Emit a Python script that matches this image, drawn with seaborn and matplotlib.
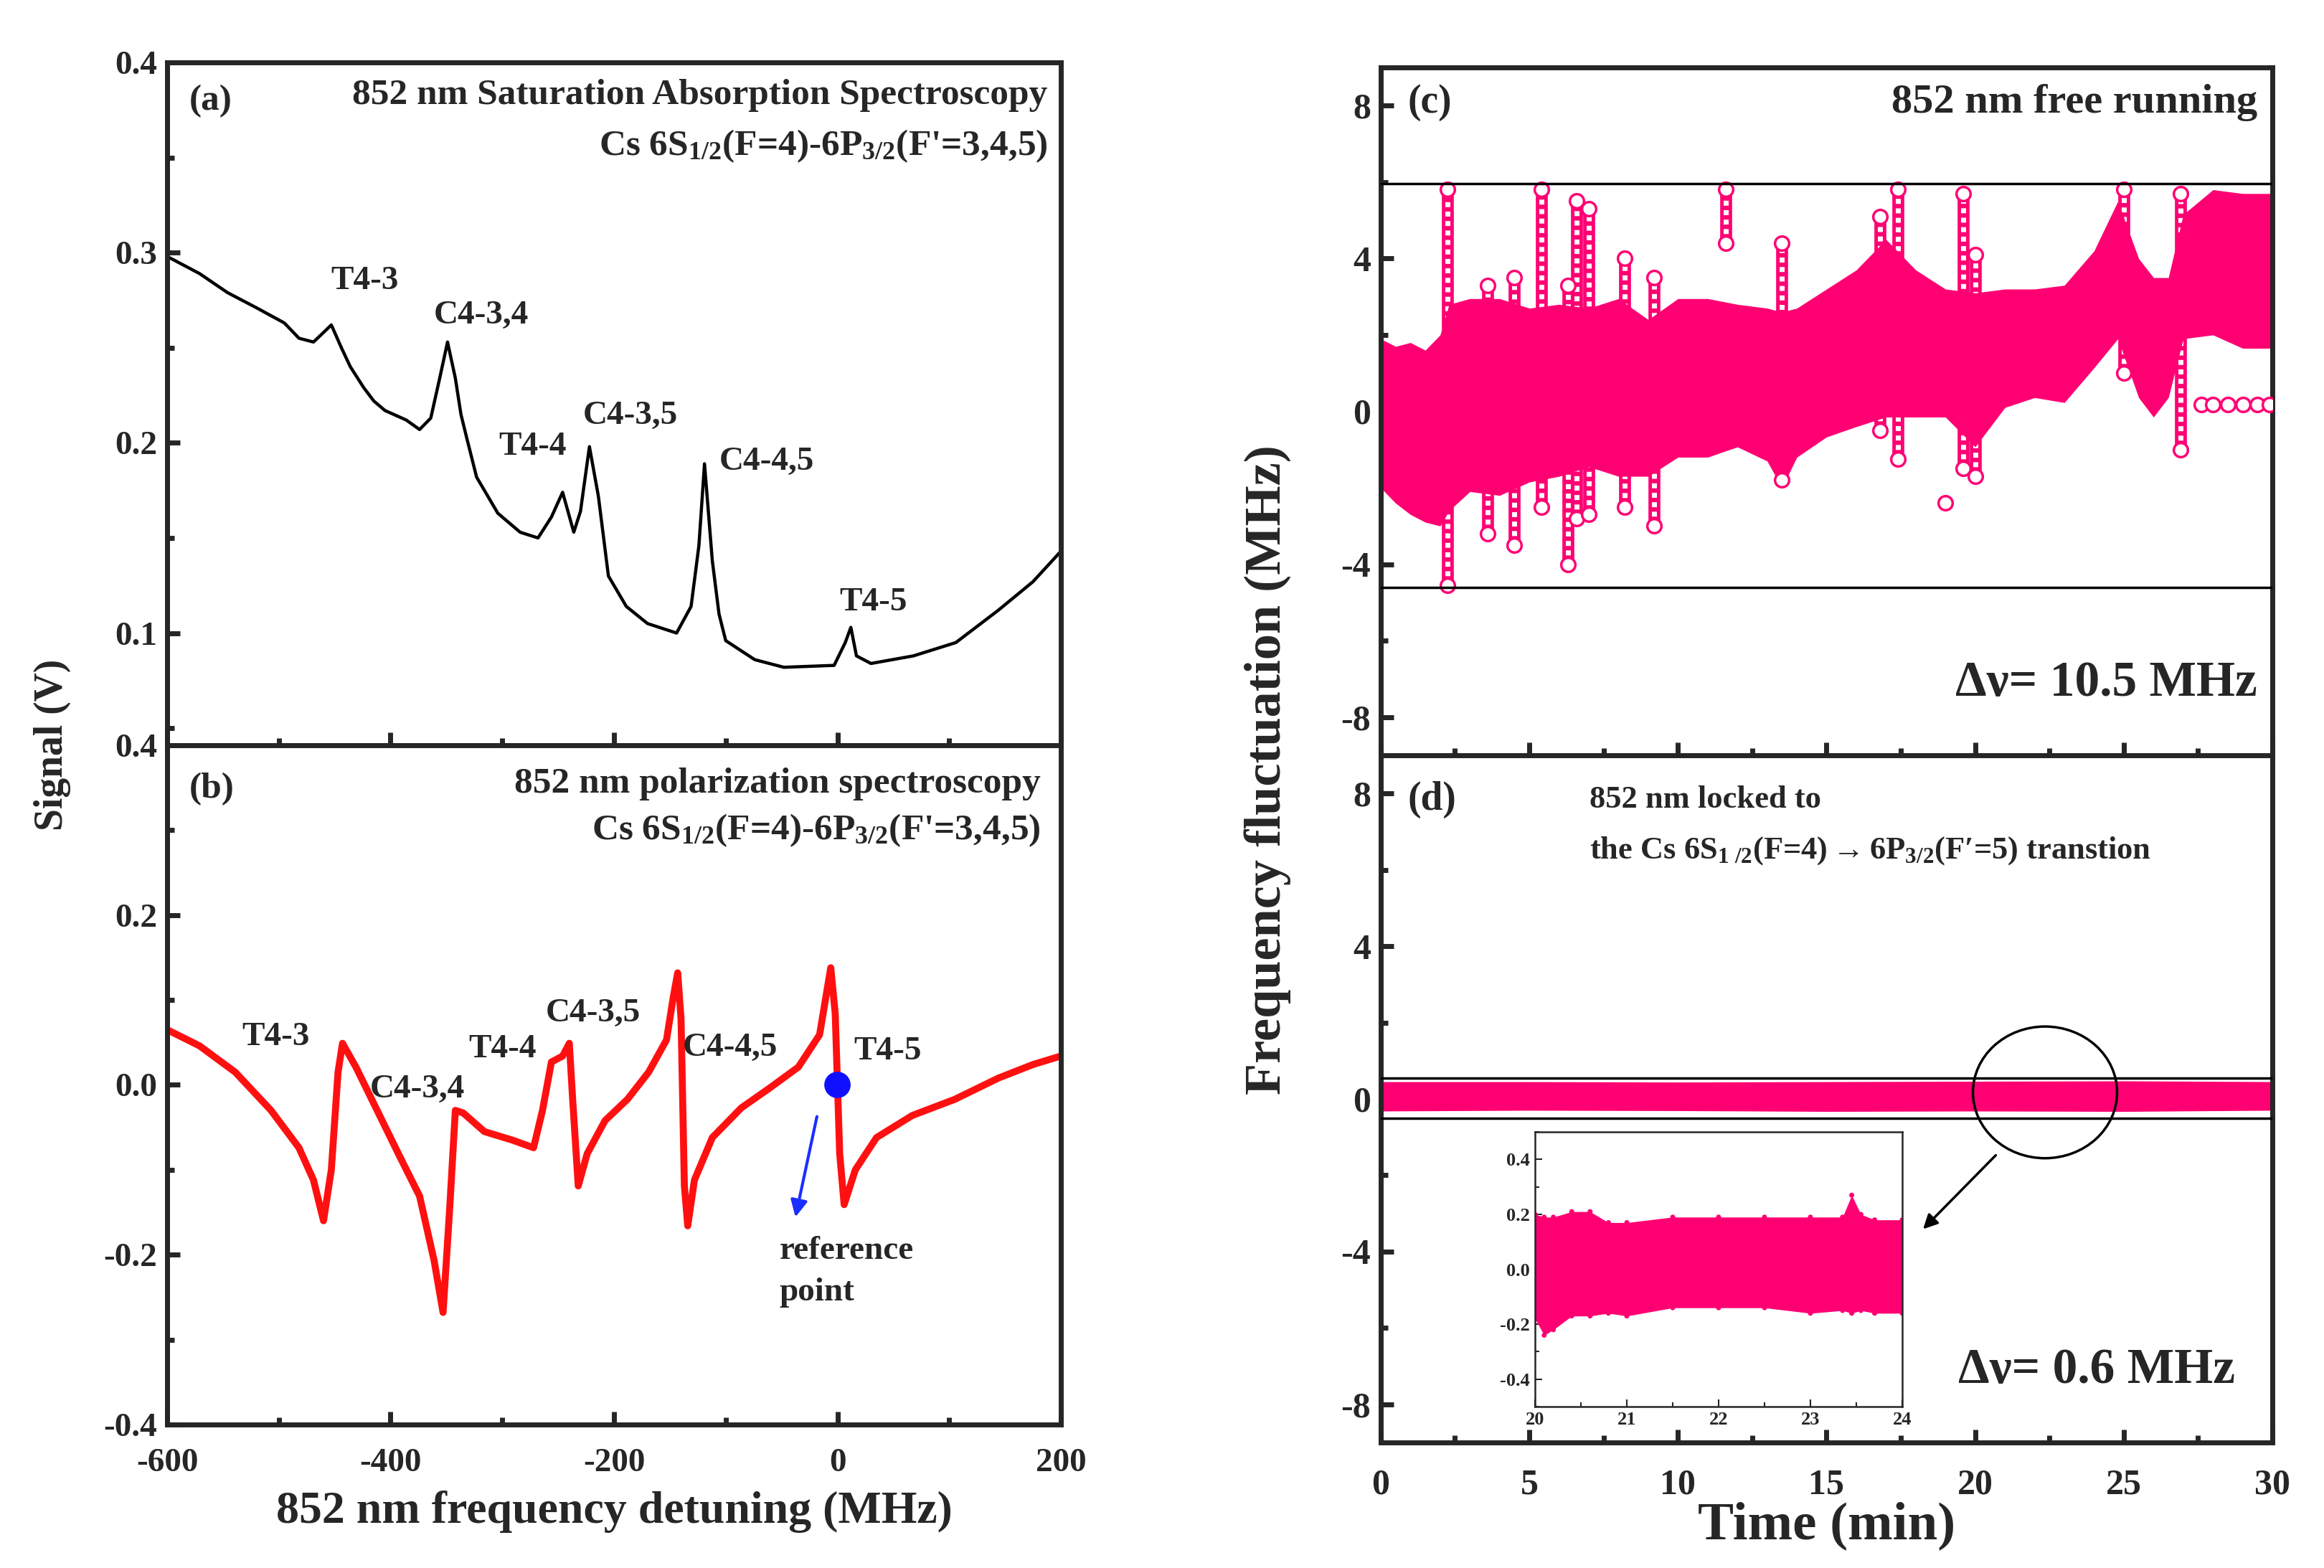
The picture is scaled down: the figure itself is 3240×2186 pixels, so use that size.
import numpy as np
import pandas as pd
import seaborn as sns
import matplotlib.pyplot as plt
from matplotlib.patches import Ellipse
from matplotlib.ticker import MultipleLocator

# ---- (a) saturation absorption spectrum
det_sas = [-600, -571, -546, -520, -495, -482, -469, -460, -453, -444, -436, -424, -415, -405,
           -386, -374, -364, -356, -349, -342, -337, -332, -323, -304, -284, -268, -256, -246,
           -236, -230, -222, -214, -205, -189, -170, -144, -131, -124, -119, -112, -106, -100,
           -74, -48, -3, 7, 12, 17, 30, 68, 106, 144, 175, 200]
sig_sas = [0.298, 0.289, 0.279, 0.271, 0.263, 0.255, 0.253, 0.258, 0.262, 0.250, 0.240, 0.229,
           0.222, 0.217, 0.212, 0.207, 0.213, 0.234, 0.253, 0.234, 0.215, 0.203, 0.182, 0.163,
           0.153, 0.150, 0.161, 0.174, 0.153, 0.164, 0.198, 0.172, 0.130, 0.114, 0.105, 0.100,
           0.114, 0.146, 0.189, 0.138, 0.110, 0.096, 0.086, 0.082, 0.083, 0.095, 0.103, 0.088,
           0.084, 0.088, 0.095, 0.112, 0.127, 0.143]

# ---- (b) polarization spectrum
det_ps = [-600, -571, -539, -507, -482, -469, -460, -453, -447, -443, -431, -412, -393, -374,
          -361, -353, -347, -342, -335, -316, -291, -272, -264, -256, -246, -240, -237, -232,
          -224, -208, -188, -169, -153, -147, -143, -140, -137, -134, -128, -112, -86, -61,
          -35, -16, -6, -2, 2, 6, 16, 35, 67, 105, 144, 175, 200]
sig_ps = [0.065, 0.046, 0.015, -0.030, -0.074, -0.112, -0.160, -0.100, 0.015, 0.049, 0.021,
          -0.030, -0.081, -0.131, -0.207, -0.268, -0.144, -0.030, -0.033, -0.055, -0.065,
          -0.074, -0.030, 0.027, 0.034, 0.049, -0.017, -0.119, -0.081, -0.042, -0.017, 0.015,
          0.053, 0.103, 0.132, 0.078, -0.119, -0.166, -0.112, -0.062, -0.027, -0.004, 0.021,
          0.059, 0.138, 0.084, -0.081, -0.141, -0.100, -0.062, -0.036, -0.017, 0.008, 0.024,
          0.034]

sas_labels = ['T4-3', 'C4-3,4', 'T4-4', 'C4-3,5', 'C4-4,5', 'T4-5']
sas_lab_x = [-423, -319, -273, -185, -63, 32]
sas_lab_y = [0.285, 0.267, 0.198, 0.214, 0.190, 0.116]
ps_lab_x = [-503, -376, -300, -219, -96, 45]
ps_lab_y = [0.056, -0.005, 0.042, 0.084, 0.044, 0.039]

# ---- (c) free running: envelope of the dense band, spikes and stray points
t_free = [0, 0.5, 1, 1.5, 2, 2.3, 3, 4, 5, 6, 7, 8, 9, 10, 11, 12, 13, 13.5, 14, 15, 16, 17,
          18, 19, 20, 21, 22, 23, 24, 24.8, 25.5, 26, 26.5, 27, 28, 29, 30]
up_free = [1.9, 1.7, 1.8, 1.6, 2.0, 2.8, 2.95, 2.95, 2.7, 2.8, 2.7, 2.95, 2.4, 2.95, 2.95, 2.8,
           2.7, 2.6, 2.7, 3.2, 3.7, 4.5, 3.7, 3.2, 3.1, 3.2, 3.2, 3.3, 4.2, 5.5, 4.0, 3.5, 3.5,
           5.15, 5.8, 5.7, 5.7]
lo_free = [-2.0, -2.4, -2.7, -2.9, -3.0, -2.6, -2.1, -2.2, -1.85, -1.7, -1.45, -1.7, -1.7, -1.2,
           -1.2, -0.93, -1.3, -2.0, -1.2, -0.67, -0.4, -0.15, -0.15, -0.15, -0.93, 0.1, 0.36,
           0.23, 1.14, 1.9, 0.36, -0.15, 0.36, 1.9, 2.0, 1.65, 1.65]
spike_t = [2.25, 3.6, 4.5, 5.4, 6.3, 6.6, 7.0, 8.2, 9.2, 11.6, 13.5, 16.8, 17.4, 19.6, 20.0,
           25.0, 26.9]
spike_lo = [-4.55, -3.2, -3.5, -2.5, -4.0, -2.8, -2.7, -2.5, -3.0, 4.4, -1.8, -0.5, -1.25,
            -1.5, -1.7, 1.0, -1.0]
spike_hi = [5.8, 3.3, 3.5, 5.8, 3.3, 5.5, 5.3, 4.0, 3.5, 5.8, 4.4, 5.1, 5.8, 5.7, 4.1, 5.8, 5.7]
stray_t = [19.0, 27.6, 28.0, 28.5, 29.0, 29.5, 29.9]
stray_v = [-2.4, 0.17, 0.17, 0.17, 0.17, 0.17, 0.17]
free_bounds = [5.95, -4.6]

# ---- (d) locked
t_lock = [0, 5, 10, 15, 20, 25, 30]
up_lock = [0.45, 0.45, 0.44, 0.45, 0.46, 0.47, 0.45]
lo_lock = [-0.32, -0.30, -0.31, -0.33, -0.32, -0.33, -0.30]
lock_bounds = [0.55, -0.5]

t_zoom = [20.0, 20.1, 20.2, 20.4, 20.6, 20.8, 21.0, 21.5, 22.0, 22.5, 23.0, 23.35, 23.45,
          23.55, 23.7, 24.0]
up_zoom = [0.20, 0.19, 0.19, 0.21, 0.21, 0.17, 0.17, 0.19, 0.19, 0.19, 0.19, 0.19, 0.27, 0.20,
           0.18, 0.18]
lo_zoom = [-0.18, -0.24, -0.22, -0.17, -0.17, -0.16, -0.17, -0.14, -0.14, -0.14, -0.16, -0.15,
           -0.16, -0.15, -0.16, -0.16]

PINK = '#FF0073'
RED = '#FF1010'

sns.set_style('ticks')
plt.rcParams['font.family'] = ['Liberation Serif', 'DejaVu Serif']
plt.rcParams.update({
    'font.weight': 'bold',
    'axes.labelweight': 'bold',
    'axes.unicode_minus': False,
    'mathtext.fontset': 'custom',
    'mathtext.rm': 'Liberation Serif:bold',
    'mathtext.bf': 'Liberation Serif:bold',
    'mathtext.it': 'Liberation Serif:bold:italic',
    'mathtext.default': 'rm',
    'axes.linewidth': 5,
})

fig = plt.figure(figsize=(32.4, 21.86), dpi=100)
ax_a = fig.add_axes([0.0719, 0.5247, 0.3846, 0.4355])
ax_b = fig.add_axes([0.0719, 0.0915, 0.3846, 0.4332])
ax_c = fig.add_axes([0.5941, 0.5183, 0.3837, 0.4387])
ax_d = fig.add_axes([0.5941, 0.0801, 0.3837, 0.4382])
ax_in = fig.add_axes([0.6605, 0.1029, 0.1580, 0.1752])


def style(ax, size=34, major=13, minor=7, xpad=10):
    ax.tick_params(which='both', direction='in', width=5, labelsize=size, pad=10,
                   top=False, right=False)
    ax.tick_params(axis='x', which='both', pad=xpad)
    ax.tick_params(which='major', length=major)
    ax.tick_params(which='minor', length=minor)
    for s in ax.spines.values():
        s.set_linewidth(5)
        s.set_visible(True)


# (a)
sns.lineplot(x=det_sas, y=sig_sas, ax=ax_a, color='black', lw=3.2, estimator=None)
ax_a.set_xlim(-600, 200)
ax_a.set_ylim(0.041, 0.4)
ax_a.xaxis.set_major_locator(MultipleLocator(200))
ax_a.xaxis.set_minor_locator(MultipleLocator(100))
ax_a.yaxis.set_minor_locator(MultipleLocator(0.05))
ax_a.set_yticks([0.1, 0.2, 0.3, 0.4])
ax_a.set_yticklabels(['0.1', '0.2', '0.3', '0.4'])
style(ax_a)
ax_a.tick_params(labelbottom=False)
ax_a.set_xlabel('')
ax_a.set_ylabel('')
for lab, x, y in zip(sas_labels, sas_lab_x, sas_lab_y):
    ax_a.text(x, y, lab, ha='center', va='center', fontsize=34)
ax_a.text(0.025, 0.943, '(a)', transform=ax_a.transAxes, fontsize=37, va='center')
ax_a.text(0.985, 0.952, '852 nm Saturation Absorption Spectroscopy', transform=ax_a.transAxes,
          fontsize=37, ha='right', va='center')
ax_a.text(0.985, 0.877, r"Cs 6S$_{1/2}$(F=4)-6P$_{3/2}$(F'=3,4,5)", transform=ax_a.transAxes,
          fontsize=37, ha='right', va='center')

# (b)
sns.lineplot(x=det_ps, y=sig_ps, ax=ax_b, color=RED, lw=7, estimator=None)
sns.scatterplot(x=[0], y=[0], ax=ax_b, color='#1010FF', s=700, edgecolor='none', zorder=5)
ax_b.annotate('', xy=(-38, -0.158), xytext=(-18, -0.035),
              arrowprops=dict(arrowstyle='-|>', color='#1a2fff', lw=3, mutation_scale=35))
ax_b.set_xlim(-600, 200)
ax_b.set_ylim(-0.4, 0.4)
ax_b.xaxis.set_major_locator(MultipleLocator(200))
ax_b.xaxis.set_minor_locator(MultipleLocator(100))
ax_b.yaxis.set_major_locator(MultipleLocator(0.2))
ax_b.yaxis.set_minor_locator(MultipleLocator(0.1))
style(ax_b, xpad=24)
ax_b.set_xlabel('852 nm frequency detuning (MHz)', fontsize=46, labelpad=12)
ax_b.set_ylabel('')
for lab, x, y in zip(sas_labels, ps_lab_x, ps_lab_y):
    ax_b.text(x, y, lab, ha='center', va='center', fontsize=34)
ax_b.text(-52, -0.22, 'reference\npoint', ha='left', va='center', fontsize=34, linespacing=1.5)
ax_b.text(0.025, 0.935, '(b)', transform=ax_b.transAxes, fontsize=37, va='center')
ax_b.text(0.977, 0.943, '852 nm polarization spectroscopy', transform=ax_b.transAxes,
          fontsize=37, ha='right', va='center')
ax_b.text(0.977, 0.875, r"Cs 6S$_{1/2}$(F=4)-6P$_{3/2}$(F'=3,4,5)", transform=ax_b.transAxes,
          fontsize=37, ha='right', va='center')

fig.text(0.0225, 0.525, 'Signal (V)', rotation=90, ha='center', va='center', fontsize=40)

# (c): spikes sit under the dense band, drawn as columns of pink rings
ax_c.vlines(spike_t, spike_lo, spike_hi, color=PINK, lw=12, zorder=1)
ax_c.vlines(spike_t, spike_lo, spike_hi, color='white', lw=5, zorder=1.5,
            linestyles=[(0, (1.0, 0.9))])
ax_c.fill_between(t_free, lo_free, up_free, color=PINK, lw=0, zorder=2)
sns.scatterplot(x=spike_t + spike_t, y=spike_lo + spike_hi, ax=ax_c, marker='o', s=200,
                facecolor='white', edgecolor=PINK, linewidth=2.5, zorder=3)
sns.scatterplot(x=stray_t, y=stray_v, ax=ax_c, marker='o', s=200, facecolor='white',
                edgecolor=PINK, linewidth=2.5, zorder=3)
for v in free_bounds:
    ax_c.axhline(v, color='black', lw=2.5, zorder=4)
ax_c.set_xlim(0, 30)
ax_c.set_ylim(-9, 9)
ax_c.xaxis.set_major_locator(MultipleLocator(5))
ax_c.xaxis.set_minor_locator(MultipleLocator(2.5))
ax_c.yaxis.set_minor_locator(MultipleLocator(2))
ax_c.set_yticks([-8, -4, 0, 4, 8])
style(ax_c, size=36)
ax_c.tick_params(labelbottom=False)
ax_c.set_xlabel('')
ax_c.set_ylabel('')
ax_c.text(0.03, 0.949, '(c)', transform=ax_c.transAxes, fontsize=40, va='center')
ax_c.text(0.983, 0.949, '852 nm free running', transform=ax_c.transAxes, fontsize=42,
          ha='right', va='center')
ax_c.text(0.983, 0.104, 'Δν= 10.5 MHz', transform=ax_c.transAxes, fontsize=50,
          ha='right', va='center')

# (d)
ax_d.fill_between(t_lock, lo_lock, up_lock, color=PINK, lw=0)
for v in lock_bounds:
    ax_d.axhline(v, color='black', lw=2.5, zorder=4)
ax_d.add_patch(Ellipse((22.35, 0.17), 4.85, 3.45, fill=False, ec='black', lw=2.5, zorder=5))
ax_d.annotate('', xy=(18.2, -3.45), xytext=(20.74, -1.44),
              arrowprops=dict(arrowstyle='-|>', color='black', lw=2.5, mutation_scale=30))
ax_d.set_xlim(0, 30)
ax_d.set_ylim(-9, 9)
ax_d.xaxis.set_major_locator(MultipleLocator(5))
ax_d.xaxis.set_minor_locator(MultipleLocator(2.5))
ax_d.yaxis.set_minor_locator(MultipleLocator(2))
ax_d.set_yticks([-8, -4, 0, 4, 8])
style(ax_d, size=36, xpad=26)
ax_d.set_xlabel('Time (min)', fontsize=54, labelpad=0)
ax_d.set_ylabel('')
ax_d.text(0.03, 0.935, '(d)', transform=ax_d.transAxes, fontsize=40, va='center')
ax_d.text(0.234, 0.935, '852 nm locked to', transform=ax_d.transAxes, fontsize=32,
          ha='left', va='center')
ax_d.text(0.234, 0.861, r'the Cs 6S$_{1\ /2}$(F=4)$\rightarrow$6P$_{3/2}$(F′=5) transtion',
          transform=ax_d.transAxes, fontsize=32, ha='left', va='center')
ax_d.text(0.958, 0.104, 'Δν= 0.6 MHz', transform=ax_d.transAxes, fontsize=50,
          ha='right', va='center')

# inset
ax_in.fill_between(t_zoom, lo_zoom, up_zoom, color=PINK, lw=0)
sns.scatterplot(x=t_zoom, y=up_zoom, ax=ax_in, marker='o', s=25, color=PINK, edgecolor='none')
sns.scatterplot(x=t_zoom, y=lo_zoom, ax=ax_in, marker='o', s=25, color=PINK, edgecolor='none')
ax_in.set_xlim(20, 24)
ax_in.set_ylim(-0.5, 0.5)
ax_in.xaxis.set_major_locator(MultipleLocator(1))
ax_in.xaxis.set_minor_locator(MultipleLocator(0.5))
ax_in.yaxis.set_minor_locator(MultipleLocator(0.1))
ax_in.set_yticks([-0.4, -0.2, 0.0, 0.2, 0.4])
ax_in.set_yticklabels(['-0.4', '-0.2', '0.0', '0.2', '0.4'])
ax_in.tick_params(which='both', direction='in', labelsize=19, width=1.5, pad=5)
ax_in.tick_params(which='major', length=7)
ax_in.tick_params(which='minor', length=4)
for s in ax_in.spines.values():
    s.set_linewidth(1.8)
ax_in.set_xlabel('')
ax_in.set_ylabel('')

fig.text(0.5455, 0.509, 'Frequency fluctuation (MHz)', rotation=90, ha='center', va='center',
         fontsize=52)

fig.savefig('out.png', dpi=100)
